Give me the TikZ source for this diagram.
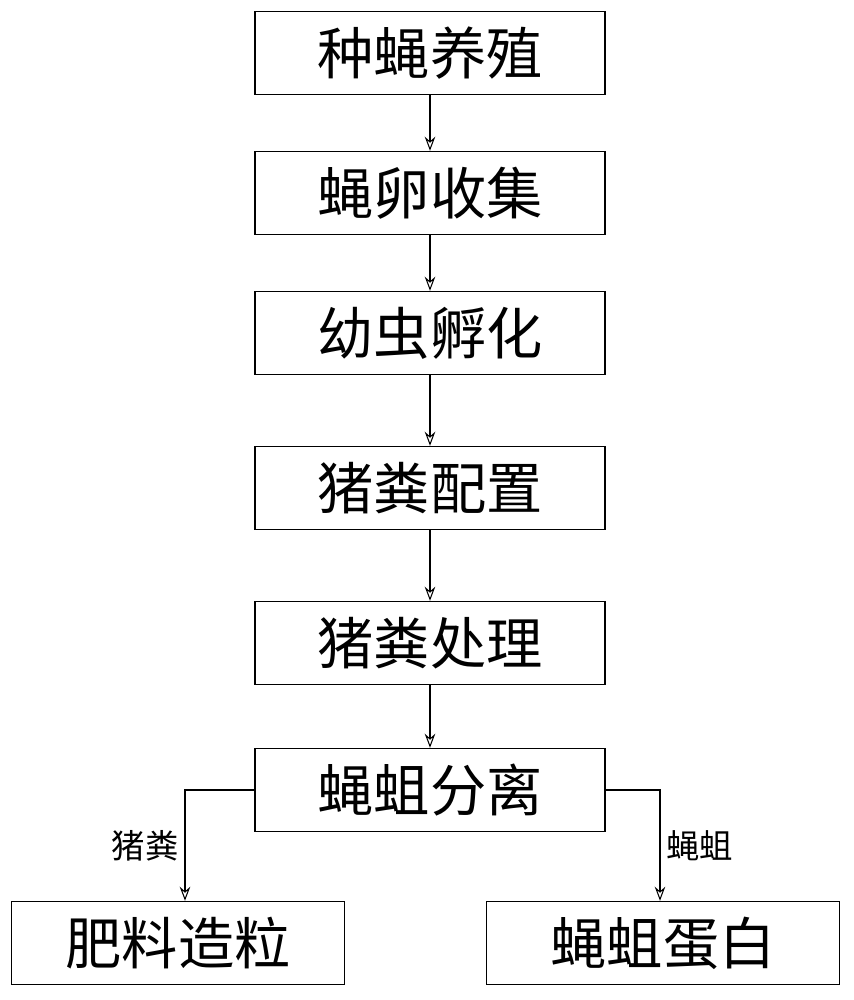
\documentclass[tikz,border=0pt]{standalone}
\usepackage{fontspec}
\newfontfamily\cjk{Noto Sans CJK SC}
\usetikzlibrary{arrows.meta}
\tikzset{
  stepbox/.style={draw, thick, minimum width=7cm, minimum height=1.66cm,
    font=\cjk\fontsize{32}{36}\selectfont, inner sep=0pt},
  flow/.style={-{Stealth[length=8pt,width=6pt,open]}, semithick},
  edgelabel/.style={font=\cjk\fontsize{19}{22}\selectfont}
}
\begin{document}
\begin{tikzpicture}[x=0.02cm, y=-0.02cm]
\useasboundingbox (0,0) rectangle (854,1000);
\node (breed) at (430,53) [stepbox] {种蝇养殖};
\node (egg) at (430,193) [stepbox] {蝇卵收集};
\node (hatch) at (430,333) [stepbox] {幼虫孵化};
\node (mix) at (430,488) [stepbox] {猪粪配置};
\node (treat) at (430,643) [stepbox] {猪粪处理};
\node (sep) at (430,790) [stepbox] {蝇蛆分离};
\node (fert) at (178,943) [stepbox, minimum width=6.66cm] {肥料造粒};
\node (prot) at (663,943) [stepbox, minimum width=7.06cm] {蝇蛆蛋白};
\draw[flow] (breed) -- (egg);
\draw[flow] (egg) -- (hatch);
\draw[flow] (hatch) -- (mix);
\draw[flow] (mix) -- (treat);
\draw[flow] (treat) -- (sep);
\draw[flow] (sep.west) -| node[edgelabel, pos=0.75, left] {猪粪} (fert.north -| 185,0);
\draw[flow] (sep.east) -| node[edgelabel, pos=0.75, right] {蝇蛆} (prot.north -| 660,0);
\end{tikzpicture}
\end{document}
